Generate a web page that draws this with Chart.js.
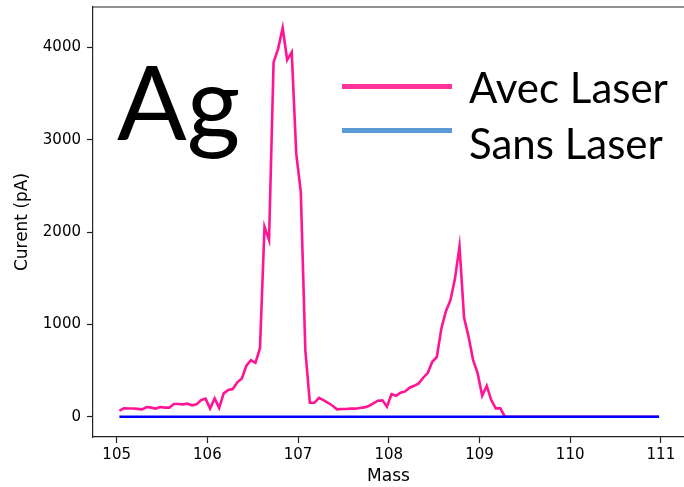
<!DOCTYPE html>
<html>
<head>
<meta charset="utf-8">
<script src="https://cdn.jsdelivr.net/npm/chart.js@4/dist/chart.umd.min.js"></script>
<style>
  html, body { margin: 0; padding: 0; background: #fff; }
  #wrap { position: relative; width: 684px; height: 487px; overflow: hidden; }
  canvas { position: absolute; left: 0; top: 0; }
  .ov { position: absolute; font-family: Lato, "Open Sans", sans-serif; color: #000; line-height: 1; white-space: nowrap; }
  .key { position: absolute; height: 5px; }
</style>
</head>
<body>
<div id="wrap">
  <canvas id="c" width="684" height="487"></canvas>
  <div class="ov" id="elem" style="left:117px; top:49px; font-size:103px;">Ag</div>
  <div class="key" style="left:342px; top:84px; width:110px; background:#ff3399;"></div>
  <div class="key" style="left:342px; top:128px; width:110px; background:#5b9bd5;"></div>
  <div class="ov" style="left:469px; top:66px; font-size:42px;">Avec Laser</div>
  <div class="ov" style="left:469px; top:122px; font-size:42px;">Sans Laser</div>
</div>
<script>
// ---- data ----
const massAvec = [
  105.03, 105.08, 105.13, 105.18, 105.23, 105.28, 105.33, 105.38, 105.43, 105.48,
  105.53, 105.58, 105.63, 105.68, 105.73, 105.78, 105.83, 105.88, 105.93, 105.98,
  106.03, 106.08, 106.13, 106.18, 106.23, 106.28, 106.33, 106.38, 106.43, 106.48,
  106.53, 106.58, 106.63, 106.68, 106.73, 106.78, 106.83, 106.88, 106.93, 106.98,
  107.03, 107.08, 107.13, 107.18, 107.23, 107.28, 107.33, 107.38, 107.43, 107.48,
  107.53, 107.58, 107.63, 107.68, 107.73, 107.78, 107.83, 107.88, 107.93, 107.98,
  108.03, 108.08, 108.13, 108.18, 108.23, 108.28, 108.33, 108.38, 108.43, 108.48,
  108.53, 108.58, 108.63, 108.68, 108.73, 108.78, 108.83, 108.88, 108.93, 108.98,
  109.03, 109.08, 109.13, 109.18, 109.23, 109.28, 110.98
];
const currentAvec = [
  65, 90, 88, 88, 85, 78, 105, 98, 88, 105,
  98, 98, 137, 137, 134, 141, 123, 134, 180, 195,
  88, 198, 95, 253, 289, 300, 372, 415, 552, 613,
  584, 742, 2058, 1914, 3841, 3986, 4212, 3867, 3950, 2850,
  2436, 720, 151, 151, 205, 180, 151, 119, 80, 83,
  83, 87, 87, 94, 101, 116, 144, 173, 177, 108,
  245, 227, 260, 274, 314, 335, 361, 422, 476, 595,
  649, 956, 1143, 1262, 1496, 1845, 1074, 865, 613, 469,
  227, 335, 180, 90, 90, 0, 0
];
const massSans = [105.03, 110.98];
const currentSans = [0, 0];
const xTicks = [105, 106, 107, 108, 109, 110, 111];
const yTicks = [0, 1000, 2000, 3000, 4000];

const toPts = (xs, ys) => xs.map((x, i) => ({ x: x, y: ys[i] }));

const topBorder = {
  id: 'topBorder',
  afterDraw(chart) {
    const a = chart.chartArea, ctx = chart.ctx;
    ctx.save();
    ctx.strokeStyle = '#222';
    ctx.lineWidth = 1.2;
    ctx.beginPath();
    ctx.moveTo(a.left, a.top);
    ctx.lineTo(a.right, a.top);
    ctx.stroke();
    ctx.restore();
  }
};

const tickFont = { family: 'DejaVu Sans', size: 15 };
const titleFont = { family: 'DejaVu Sans', size: 17 };

new Chart(document.getElementById('c'), {
  type: 'line',
  data: {
    datasets: [
      {
        label: 'Avec Laser',
        data: toPts(massAvec, currentAvec),
        borderColor: '#ff1493',
        borderWidth: 2.6,
        pointRadius: 0,
        tension: 0,
        fill: false,
        order: 2
      },
      {
        label: 'Sans Laser',
        data: toPts(massSans, currentSans),
        borderColor: '#0000ff',
        borderWidth: 2.6,
        pointRadius: 0,
        tension: 0,
        fill: false,
        order: 1
      }
    ]
  },
  options: {
    responsive: false,
    animation: false,
    devicePixelRatio: 1,
    layout: { padding: { top: 7, left: 0, right: 0, bottom: 0 } },
    plugins: { legend: { display: false }, tooltip: { enabled: false } },
    scales: {
      x: {
        type: 'linear',
        min: 104.739,
        max: 111.255,
        afterBuildTicks(s) { s.ticks = xTicks.map(v => ({ value: v })); },
        afterFit(s) { s.height = 50; s.paddingLeft = 0; s.paddingRight = 0; },
        grid: { drawOnChartArea: false, drawTicks: true, tickLength: 6, tickColor: '#222', tickWidth: 1.2 },
        border: { display: true, color: '#222', width: 1.2 },
        ticks: { color: '#000', font: tickFont, padding: 3, maxRotation: 0, callback: v => String(v) },
        title: { display: true, text: 'Mass', color: '#000', font: titleFont, padding: 0 }
      },
      y: {
        type: 'linear',
        min: -220,
        max: 4439,
        afterBuildTicks(s) { s.ticks = yTicks.map(v => ({ value: v })); },
        afterFit(s) { s.width = 93; s.paddingTop = 0; s.paddingBottom = 0; },
        grid: { drawOnChartArea: false, drawTicks: true, tickLength: 6, tickColor: '#222', tickWidth: 1.2 },
        border: { display: true, color: '#222', width: 1.2 },
        ticks: { color: '#000', font: tickFont, padding: 6, callback: v => String(v) },
        title: { display: true, text: 'Curent (pA)', color: '#000', font: titleFont, padding: 12 }
      }
    }
  },
  plugins: [topBorder]
});
</script>
</body>
</html>
